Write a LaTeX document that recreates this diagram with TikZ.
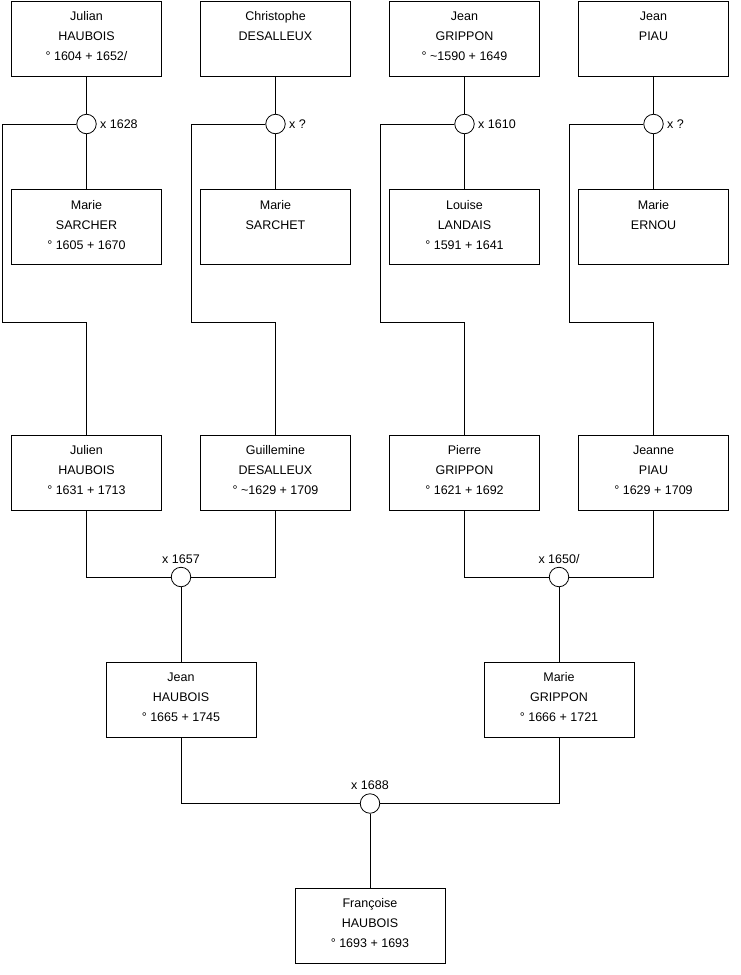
\documentclass[tikz,border=0pt]{standalone}
\usepackage{fontspec}
\setmainfont{Liberation Sans}
\begin{document}
\begin{tikzpicture}[x=1pt,y=-1pt,
  person/.style={draw=black,line width=0.8pt,fill=white,rectangle,minimum width=150pt,minimum height=75pt,inner sep=0pt,align=center,font=\fontsize{12.5}{20}\selectfont},
  union/.style={draw=black,line width=0.8pt,fill=white,circle,minimum size=19.5pt,inner sep=0pt},
  lbl/.style={font=\fontsize{12.5}{14}\selectfont},
  link/.style={draw=black,line width=0.8pt}]
\useasboundingbox (0,0) rectangle (740,975);
\newcommand{\topst}{\rule{0pt}{9pt}}
\newcommand{\botst}{\rule[-5pt]{0pt}{5pt}}
% generation 1
\node[person] (p1) at (86.5,38.5) {\topst Julian\\HAUBOIS\\° 1604 + 1652/\botst};
\node[person] (p2) at (275.5,38.5) {\topst Christophe\\DESALLEUX\\\botst};
\node[person] (p3) at (464.5,38.5) {\topst Jean\\GRIPPON\\° \textasciitilde1590 + 1649\botst};
\node[person] (p4) at (653.5,38.5) {\topst Jean\\PIAU\\\botst};
% spouses
\node[person] (w1) at (86.5,227) {\topst Marie\\SARCHER\\° 1605 + 1670\botst};
\node[person] (w2) at (275.5,227) {\topst Marie\\SARCHET\\\botst};
\node[person] (w3) at (464.5,227) {\topst Louise\\LANDAIS\\° 1591 + 1641\botst};
\node[person] (w4) at (653.5,227) {\topst Marie\\ERNOU\\\botst};
% unions gen 1
\node[union,label={[lbl]right:x 1628}] (m1) at (86.5,124) {};
\node[union,label={[lbl]right:x ?}] (m2) at (275.5,124) {};
\node[union,label={[lbl]right:x 1610}] (m3) at (464.5,124) {};
\node[union,label={[lbl]right:x ?}] (m4) at (653.5,124) {};
% generation 2
\node[person] (c1) at (86.5,472.5) {\topst Julien\\HAUBOIS\\° 1631 + 1713\botst};
\node[person] (c2) at (275.5,472.5) {\topst Guillemine\\DESALLEUX\\° \textasciitilde1629 + 1709\botst};
\node[person] (c3) at (464.5,472.5) {\topst Pierre\\GRIPPON\\° 1621 + 1692\botst};
\node[person] (c4) at (653.5,472.5) {\topst Jeanne\\PIAU\\° 1629 + 1709\botst};
\node[union,label={[lbl]above:x 1657}] (m5) at (181,577) {};
\node[union,label={[lbl]above:x 1650/}] (m6) at (559,577) {};
% generation 3
\node[person] (g1) at (181,699.5) {\topst Jean\\HAUBOIS\\° 1665 + 1745\botst};
\node[person] (g2) at (559,699.5) {\topst Marie\\GRIPPON\\° 1666 + 1721\botst};
\node[union,label={[lbl]above:x 1688}] (m7) at (370,803.5) {};
% generation 4
\node[person] (f) at (370,925.5) {\topst Françoise\\HAUBOIS\\° 1693 + 1693\botst};
% corner points
\coordinate (k1) at (2,322);
\coordinate (k2) at (191,322);
\coordinate (k3) at (380,322);
\coordinate (k4) at (569,322);
% connectors gen 1
\foreach \i in {1,2,3,4}{
  \draw[link] (p\i.south) -- (m\i.north);
  \draw[link] (m\i.south) -- (w\i.north);
  \draw[link] (m\i.west) -| (k\i) -| (c\i.north);
}
% connectors gen 2
\draw[link] (c1.south) |- (m5.west);
\draw[link] (m5.east) -| (c2.south);
\draw[link] (c3.south) |- (m6.west);
\draw[link] (m6.east) -| (c4.south);
\draw[link] (m5.south) -- (g1.north);
\draw[link] (m6.south) -- (g2.north);
% connectors gen 3
\draw[link] (g1.south) |- (m7.west);
\draw[link] (m7.east) -| (g2.south);
\draw[link] (m7.south) -- (f.north);
\end{tikzpicture}
\end{document}
